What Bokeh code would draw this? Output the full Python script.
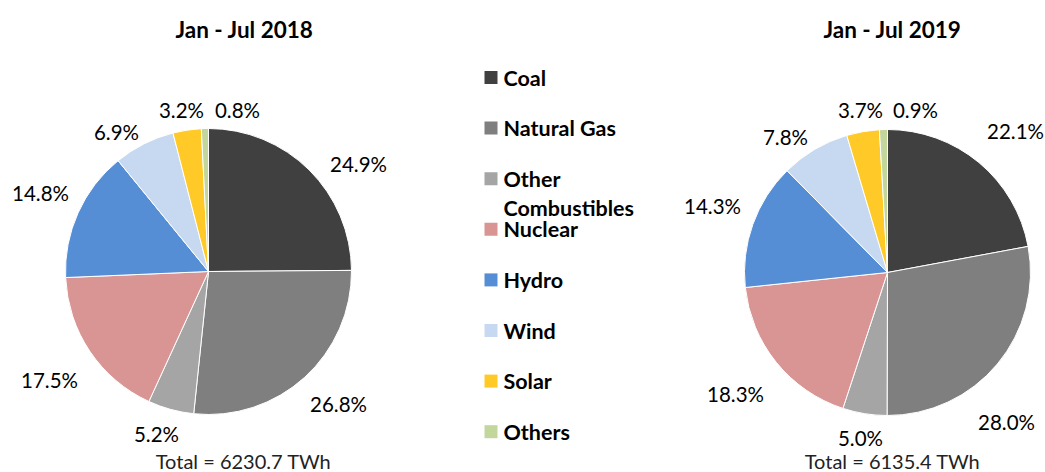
import numpy as np
from bokeh.plotting import figure
from bokeh.models import Range1d, ColumnDataSource
from bokeh.core.properties import value
from bokeh.embed import file_html
from bokeh.resources import INLINE

# ---- data ----
categories = ["Coal", "Natural Gas", "Other Combustibles", "Nuclear", "Hydro", "Wind", "Solar", "Others"]
legend_lines = [["Coal"], ["Natural Gas"], ["Other", "Combustibles"], ["Nuclear"], ["Hydro"], ["Wind"], ["Solar"], ["Others"]]
share_2018 = [24.9, 26.8, 5.2, 17.5, 14.8, 6.9, 3.2, 0.8]
share_2019 = [22.1, 28.0, 5.0, 18.3, 14.3, 7.8, 3.7, 0.9]
titles = ["Jan - Jul 2018", "Jan - Jul 2019"]
totals = ["Total = 6230.7 TWh", "Total = 6135.4 TWh"]

# ---- style / layout ----
colors = ["#404040", "#7F7F7F", "#A5A5A5", "#D99594", "#558ED5", "#C6D9F1", "#FFCA28", "#C3D69B"]
FONT = "Lato"
W, H = 1045, 472

def Y(sy):  # screen y -> data y
    return H - sy

centers = [(208, 271), (887, 272)]
radius = 143
label_pos = [
    [(358, 163), (338, 403), (156, 433), (49, 379), (40, 192), (116, 131), (181, 109), (237, 109)],
    [(1015, 130), (1006, 421), (860, 437), (735, 393), (712, 205), (785, 136), (860, 109), (915, 109)],
]
title_pos = [(244, 29), (892, 29)]
total_pos = [(243, 460), (892, 460)]

p = figure(width=W, height=H, x_range=Range1d(0, W), y_range=Range1d(0, H),
           output_backend="svg", toolbar_location=None, min_border=0)
p.axis.visible = False
p.grid.visible = False
p.outline_line_color = None
p.background_fill_color = "white"
p.border_fill_color = "white"

for k, shares in enumerate([share_2018, share_2019]):
    s = np.array(shares, dtype=float)
    frac = s / s.sum()
    cum = np.concatenate([[0.0], np.cumsum(frac)])
    start = np.pi / 2 - cum[:-1] * 2 * np.pi
    end = np.pi / 2 - cum[1:] * 2 * np.pi
    cx, cy = centers[k]
    src = ColumnDataSource(dict(start=start, end=end, color=colors, cat=categories))
    p.wedge(x=cx, y=Y(cy), radius=radius, start_angle="start", end_angle="end",
            direction="clock", fill_color="color", line_color="white", line_width=1, source=src)
    lx = [q[0] for q in label_pos[k]]
    ly = [Y(q[1]) for q in label_pos[k]]
    txt = [f"{v:.1f}%" for v in shares]
    p.text(x=lx, y=ly, text=txt, text_font=value(FONT), text_font_size="20.5px",
           text_align="center", text_baseline="middle", text_color="#000000")
    p.text(x=[title_pos[k][0]], y=[Y(title_pos[k][1])], text=[titles[k]], text_font=value(FONT),
           text_font_size="22.5px", text_font_style="bold", text_align="center", text_baseline="middle",
           text_color="#000000")
    p.text(x=[total_pos[k][0]], y=[Y(total_pos[k][1])], text=[totals[k]], text_font=value(FONT),
           text_font_size="20px", text_align="center", text_baseline="middle", text_color="#222222")

# legend
leg_x_sq = 490.5
leg_x_txt = 503
leg_y0 = 77
leg_dy = 50.6
sq_y = [Y(leg_y0 + i * leg_dy) for i in range(len(categories))]
p.rect(x=[leg_x_sq] * len(categories), y=sq_y, width=13, height=13, fill_color=colors, line_color=None)
tx, ty, tt = [], [], []
for i, lines in enumerate(legend_lines):
    for j, line in enumerate(lines):
        tx.append(leg_x_txt)
        ty.append(Y(leg_y0 + i * leg_dy + j * 29))
        tt.append(line)
p.text(x=tx, y=ty, text=tt, text_font=value(FONT), text_font_size="21.5px", text_font_style="bold",
       text_align="left", text_baseline="middle", text_color="#000000")

open("out.html", "w").write(file_html(p, INLINE))
